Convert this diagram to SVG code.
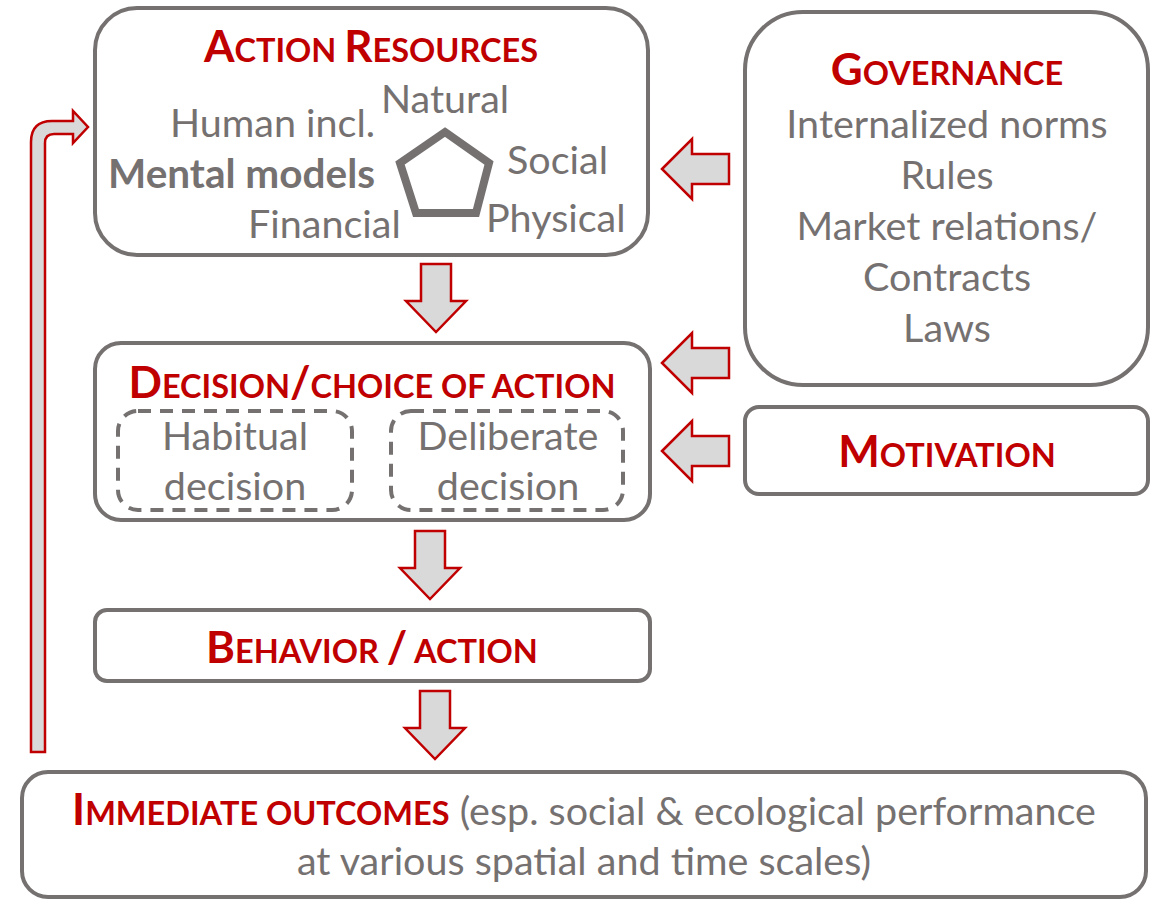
<svg xmlns="http://www.w3.org/2000/svg" width="1158" height="901" viewBox="0 0 1158 901">
  <style>
    .box { fill: #ffffff; stroke: #767171; stroke-width: 4; }
    .dash { fill: none; stroke: #767171; stroke-width: 4; stroke-dasharray: 13 9; }
    .arrow { fill: #d9d9d9; stroke: #c00000; stroke-width: 2.5; stroke-linejoin: miter; }
    .txt { font-family: Lato, "Open Sans", "Liberation Sans", sans-serif; fill: #767171; font-size: 39.5px; }
    .bold { font-weight: bold; font-size: 40.5px; }
    .head { font-family: Lato, "Open Sans", "Liberation Sans", sans-serif; fill: #c00000; font-weight: bold; }
    .cap { font-size: 44px; }
    .sc { font-size: 32.5px; }
    .mid { text-anchor: middle; }
  </style>
  <defs>
    <path id="arrowDown" d="M-15,0 L15,0 L15,37 L30,37 L0,68 L-30,37 L-15,37 Z"/>
    <path id="arrowLeft" d="M0,0 L30,-30 L30,-15 L67,-15 L67,15 L30,15 L30,30 Z"/>
  </defs>

  <!-- connectors -->
  <g id="connectors">
    <use href="#arrowDown" class="arrow" x="436" y="264"/>
    <use href="#arrowDown" class="arrow" x="430" y="531"/>
    <use href="#arrowDown" class="arrow" x="435" y="691"/>
    <use href="#arrowLeft" class="arrow" x="662" y="169"/>
    <use href="#arrowLeft" class="arrow" x="662" y="363"/>
    <use href="#arrowLeft" class="arrow" x="662" y="451"/>
    <!-- feedback loop from outcomes back to resources -->
    <path class="arrow" d="M31,752 L31,142 Q31,121 52,121 L73,121 L73,111 L88,127 L73,143 L73,134 L54,134 Q45,134 45,143 L45,752 Z"/>
  </g>

  <!-- action resources -->
  <g id="action-resources">
    <rect class="box" x="95" y="8" width="553" height="247" rx="42"/>
    <text class="head mid" x="371" y="62"><tspan class="cap">A</tspan><tspan class="sc">CTION </tspan><tspan class="cap">R</tspan><tspan class="sc">ESOURCES</tspan></text>
    <text class="txt" x="170" y="137">Human incl.</text>
    <text class="txt" x="381" y="113">Natural</text>
    <text class="txt bold" x="108" y="188">Mental models</text>
    <text class="txt" x="507" y="174">Social</text>
    <text class="txt" x="248" y="238">Financial</text>
    <text class="txt" x="486" y="232">Physical</text>
    <polygon points="445,132 489,163 476,213 416,213 400,163" fill="none" stroke="#767171" stroke-width="8" stroke-linejoin="miter"/>
  </g>

  <!-- governance -->
  <g id="governance">
    <rect class="box" x="745" y="12" width="403" height="373" rx="58"/>
    <text class="head mid" x="947" y="85"><tspan class="cap">G</tspan><tspan class="sc">OVERNANCE</tspan></text>
    <text class="txt mid" x="947" y="138">Internalized norms</text>
    <text class="txt mid" x="947" y="189">Rules</text>
    <text class="txt mid" x="947" y="240">Market relations/</text>
    <text class="txt mid" x="947" y="291">Contracts</text>
    <text class="txt mid" x="947" y="342">Laws</text>
  </g>

  <!-- motivation -->
  <g id="motivation">
    <rect class="box" x="745" y="407" width="403" height="87" rx="14"/>
    <text class="head mid" x="947" y="467"><tspan class="cap">M</tspan><tspan class="sc">OTIVATION</tspan></text>
  </g>

  <!-- decision / choice of action -->
  <g id="decision">
    <rect class="box" x="95" y="343" width="555" height="177" rx="26"/>
    <text class="head mid" x="372" y="398"><tspan class="cap">D</tspan><tspan class="sc">ECISION</tspan><tspan class="cap">/</tspan><tspan class="sc">CHOICE OF ACTION</tspan></text>
    <g id="habitual">
      <rect class="dash" x="118" y="411" width="234" height="99" rx="20"/>
      <text class="txt mid" x="235" y="450">Habitual</text>
      <text class="txt mid" x="235" y="500">decision</text>
    </g>
    <g id="deliberate">
      <rect class="dash" x="391" y="411" width="232" height="99" rx="20"/>
      <text class="txt mid" x="508" y="450">Deliberate</text>
      <text class="txt mid" x="508" y="500">decision</text>
    </g>
  </g>

  <!-- behavior -->
  <g id="behavior">
    <rect class="box" x="95" y="610" width="555" height="71" rx="12"/>
    <text class="head mid" x="372" y="663"><tspan class="cap">B</tspan><tspan class="sc">EHAVIOR </tspan><tspan class="cap">/</tspan><tspan class="sc"> ACTION</tspan></text>
  </g>

  <!-- outcomes -->
  <g id="outcomes">
    <rect class="box" x="22" y="772" width="1124" height="125" rx="26"/>
    <text class="mid" x="584" y="825"><tspan class="head cap">I</tspan><tspan class="head sc">MMEDIATE OUTCOMES</tspan><tspan class="txt"> (esp. social &amp; ecological performance</tspan></text>
    <text class="txt mid" x="584" y="875">at various spatial and time scales)</text>
  </g>
</svg>
